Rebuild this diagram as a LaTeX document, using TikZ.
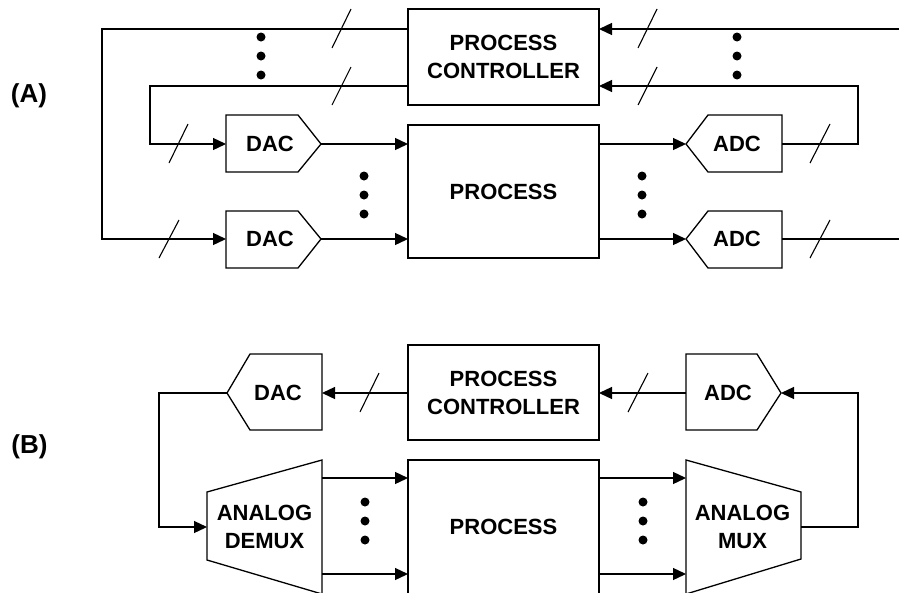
\documentclass[tikz,border=0pt]{standalone}
\usepackage{fontspec}
\setmainfont{Liberation Sans}
\usetikzlibrary{arrows.meta}
\begin{document}
\begin{tikzpicture}[x=1pt,y=-1pt,
  line width=1.3pt,
  lbl/.style={inner sep=0pt,align=center,font=\fontsize{22}{28}\selectfont\bfseries},
  boxnode/.style={draw,rectangle,inner sep=0pt,minimum width=191pt,align=center,font=\fontsize{22}{28}\selectfont\bfseries},
  arr/.style={-{Triangle[length=13pt,width=12pt]}},
  tick/.style={line width=1.1pt},
  dotc/.style={fill=black},
]
\useasboundingbox (0,0) rectangle (899,592);
\clip (0,0) rectangle (899,592);

% ---------------- (A) ----------------
\node[lbl,font=\fontsize{26}{28}\selectfont\bfseries] (labA) at (29,96) {(A)};

\node[boxnode,minimum height=96pt] (pcA) at (503.5,57) {PROCESS\\CONTROLLER};
\node[boxnode,minimum height=133pt] (pA) at (503.5,191.5) {PROCESS};

% DAC shapes (A)
\draw (226,115) -- (298,115) -- (321,144) -- (298,172) -- (226,172) -- cycle;
\coordinate (dac1in) at (226,144); \coordinate (dac1out) at (321,144);
\node[lbl] (dac1) at (270,144) {DAC};
\draw (226,211) -- (298,211) -- (321,239) -- (298,268) -- (226,268) -- cycle;
\coordinate (dac2in) at (226,239); \coordinate (dac2out) at (321,239);
\node[lbl] (dac2) at (270,239) {DAC};

% ADC shapes (A)
\draw (686,144) -- (708,115) -- (782,115) -- (782,172) -- (708,172) -- cycle;
\coordinate (adc1in) at (686,144); \coordinate (adc1out) at (782,144);
\node[lbl] (adc1) at (737,144) {ADC};
\draw (686,239) -- (708,211) -- (782,211) -- (782,268) -- (708,268) -- cycle;
\coordinate (adc2in) at (686,239); \coordinate (adc2out) at (782,239);
\node[lbl] (adc2) at (737,239) {ADC};

% connectors (A)
\coordinate (pcAw1) at (408,29); \coordinate (pcAw2) at (408,86);
\coordinate (pcAe1) at (599,29); \coordinate (pcAe2) at (599,86);
\coordinate (pAw1) at (408,144); \coordinate (pAw2) at (408,239);
\coordinate (pAe1) at (599,144); \coordinate (pAe2) at (599,239);
\coordinate (inR) at (899,29); \coordinate (outR) at (899,239);

\draw[arr] (pcAw1) -- (102,29) -- (102,239) -- (dac2in);
\draw[arr] (pcAw2) -- (150,86) -- (150,144) -- (dac1in);
\draw[arr] (dac1out) -- (pAw1);
\draw[arr] (dac2out) -- (pAw2);
\draw[arr] (pAe1) -- (adc1in);
\draw[arr] (pAe2) -- (adc2in);
\draw[arr] (adc1out) -- (858,144) -- (858,86) -- (pcAe2);
\draw[arr] (inR) -- (pcAe1);
\draw (adc2out) -- (outR);

% slashes (A)
\draw[tick] (332,48) -- (351,9);
\draw[tick] (332,105) -- (351,67);
\draw[tick] (169,163) -- (188,124);
\draw[tick] (159,258) -- (179,220);
\draw[tick] (638,48) -- (657,9);
\draw[tick] (638,105) -- (657,67);
\draw[tick] (810,163) -- (830,124);
\draw[tick] (810,258) -- (830,220);

% dots (A)
\foreach \x/\y in {261/37,261/56,261/75,364/176,364/195,364/214,737/37,737/56,737/75,642/176,642/195,642/214}
  \fill[dotc] (\x,\y) circle (4.5pt);

% ---------------- (B) ----------------
\node[lbl,font=\fontsize{26}{28}\selectfont\bfseries] (labB) at (29.5,447) {(B)};

\node[boxnode,minimum height=95pt] (pcB) at (503.5,392.5) {PROCESS\\CONTROLLER};
\node[boxnode,minimum height=134pt] (pB) at (503.5,527) {PROCESS};

% DAC (B)
\draw (227,393) -- (250,354) -- (322,354) -- (322,430) -- (250,430) -- cycle;
\coordinate (dacBin) at (322,393); \coordinate (dacBout) at (227,393);
\node[lbl] (dacB) at (278,393) {DAC};

% ADC (B)
\draw (686,354) -- (757,354) -- (781,393) -- (757,430) -- (686,430) -- cycle;
\coordinate (adcBin) at (781,393); \coordinate (adcBout) at (686,393);
\node[lbl] (adcB) at (728,393) {ADC};

% DEMUX / MUX
\draw (207,492) -- (322,460) -- (322,594) -- (207,560) -- cycle;
\node[lbl] (demux) at (264.5,527) {ANALOG\\DEMUX};
\coordinate (demuxin) at (207,527);
\coordinate (demuxo1) at (322,478); \coordinate (demuxo2) at (322,574);
\draw (686,460) -- (801,492) -- (801,559) -- (686,594) -- cycle;
\node[lbl] (mux) at (742.5,527) {ANALOG\\MUX};
\coordinate (muxout) at (801,527);
\coordinate (muxi1) at (686,478); \coordinate (muxi2) at (686,574);

% connectors (B)
\coordinate (pcBw) at (408,393); \coordinate (pcBe) at (599,393);
\coordinate (pBw1) at (408,478); \coordinate (pBw2) at (408,574);
\coordinate (pBe1) at (599,478); \coordinate (pBe2) at (599,574);

\draw[arr] (pcBw) -- (dacBin);
\draw[arr] (dacBout) -- (159,393) -- (159,527) -- (demuxin);
\draw[arr] (demuxo1) -- (pBw1);
\draw[arr] (demuxo2) -- (pBw2);
\draw[arr] (pBe1) -- (muxi1);
\draw[arr] (pBe2) -- (muxi2);
\draw[arr] (muxout) -- (858,527) -- (858,393) -- (adcBin);
\draw[arr] (adcBout) -- (pcBe);

% slashes (B)
\draw[tick] (360,412) -- (379,373);
\draw[tick] (628,412) -- (648,373);

% dots (B)
\foreach \x/\y in {365/502,365/521,365/540,643/502,643/521,643/540}
  \fill[dotc] (\x,\y) circle (4.5pt);
\end{tikzpicture}
\end{document}
